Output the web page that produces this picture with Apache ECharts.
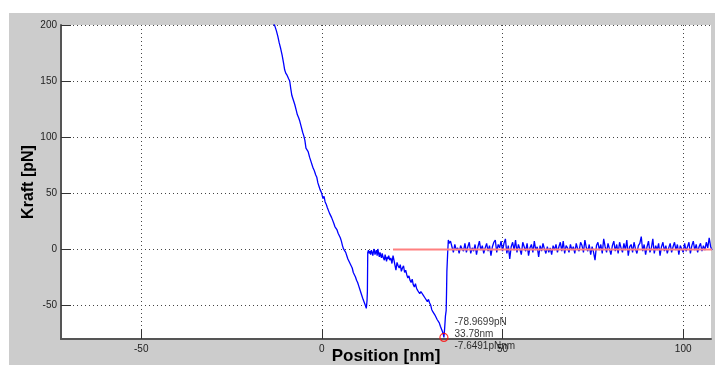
<!DOCTYPE html>
<html>
<head>
<meta charset="utf-8">
<script src="https://cdn.jsdelivr.net/npm/echarts@6/dist/echarts.min.js"></script>
<style>
html,body{margin:0;padding:0;background:#fff;}
#bg{position:absolute;left:9px;top:13px;width:706px;height:352px;background:#cccccc;}
#chart{position:absolute;left:0;top:0;width:715px;height:374px;}
</style>
</head>
<body>
<div id="bg"></div>
<div id="chart"></div>
<script>
// ---- data ----
var xTicks = [-50, 0, 50, 100];
var yTicks = [-50, 0, 50, 100, 150, 200];

// approach / contact part of the force curve [position nm, force pN]
var approachCurve = [
  [-14.0,206],[-13.6,203],[-13.0,199],[-12.6,195],[-12.2,190],[-11.8,184],[-11.4,179],[-11.0,173],
  [-10.6,166],[-10.3,160],[-10.0,157],[-9.6,155],[-9.2,152],[-8.9,150],[-8.6,143],[-8.3,137],
  [-7.9,133],[-7.5,129],[-7.1,124],[-6.8,120],[-6.4,117],[-6.1,114],[-5.7,109],[-5.3,104],
  [-5.0,101],[-4.7,97],[-4.4,90],[-4.1,91],[-3.8,87],[-3.4,82],[-3.0,78],[-2.7,75],[-2.4,72],
  [-2.1,70],[-1.9,68],[-1.7,66],[-1.4,64],[-1.1,59],[-0.8,56],[-0.5,53],[-0.2,51],[0.0,49],
  [0.3,45],[0.6,47],[0.9,42],[1.2,40],[1.5,37],[1.8,36],[2.1,32],[2.4,30],[2.7,28],[3.0,27],
  [3.3,23],[3.6,20],[3.9,19],[4.2,17],[4.5,14],[4.8,12],[5.1,10],[5.4,7],[5.7,3],[6.0,0],
  [6.3,-1],[6.6,-3],[6.9,-6],[7.2,-9],[7.5,-11],[7.8,-13],[8.1,-15],[8.4,-17],[8.7,-21],
  [9.0,-23],[9.3,-25],[9.6,-28],[9.9,-30],[10.2,-33],[10.5,-36],[10.8,-37],[11.1,-42],
  [11.4,-45],[11.7,-44],[12.0,-50],[12.3,-53],[12.5,-46],[12.6,-38],[12.7,-3]
];
// first plateau after the first rupture
var plateau = [
  [12.9,-1],[13.1,-4],[13.3,-2],[13.5,-5],[13.7,-1],[13.9,-3],[14.1,-6],[14.3,-2],[14.5,0],
  [14.7,-5],[14.9,-3],[15.1,-1],[15.3,-6],[15.5,0],[15.7,-4],[15.9,-7],[16.1,-3],[16.3,-6],
  [16.5,-8],[16.7,-4],[16.9,-7],[17.1,-6],[17.3,-10],[17.5,-5],[17.7,-8],[17.9,-11],[18.1,-7],
  [18.3,-9],[18.5,-6],[18.8,-10],[19.1,-8],[19.4,-13],[19.7,-6],[19.9,-9]
];
// stretching towards the second rupture
var stretch = [
  [20.2,-14],[20.5,-19],[20.8,-12],[21.1,-15],[21.4,-17],[21.7,-14],[22.0,-20],[22.3,-17],
  [22.6,-15],[22.9,-21],[23.2,-19],[23.5,-23],[23.8,-26],[24.1,-24],[24.4,-28],[24.7,-30],
  [25.0,-27],[25.3,-32],[25.6,-34],[25.9,-31],[26.2,-35],[26.5,-37],[26.8,-36],[27.1,-40],
  [27.4,-38],[27.7,-39],[28.0,-41],[28.3,-40],[28.6,-44],[28.9,-43],[29.2,-47],[29.5,-45],
  [29.8,-48],[30.1,-50],[30.4,-54],[30.7,-56],[31.0,-55],[31.3,-59],[31.6,-61],[31.9,-63],
  [32.2,-62],[32.5,-66],[32.8,-69],[33.1,-70],[33.4,-74],[33.6,-76],[33.78,-78.97]
];
// rupture and baseline noise
var baseline = [
  [34.0,-70],[34.2,-60],[34.4,-55],[34.5,-40],[34.6,-20],[34.8,-5],[35.0,8],
  [35.2,5],[35.6,7],[36.0,2],[36.4,-3],[36.8,4],[37.2,-1],[37.6,1],[38.0,-4],[38.4,3],[38.8,0],
  [39.2,-2],[39.6,5],[40.0,-3],[40.4,2],[40.8,6],[41.2,-4],[41.6,1],[42.0,-2],[42.4,4],[42.8,-5],
  [43.2,2],[43.6,7],[44.0,-1],[44.4,3],[44.8,-4],[45.2,1],[45.6,5],[46.0,-2],[46.4,3],[46.8,-6],
  [47.2,2],[47.6,6],[48.0,8],[48.4,-3],[48.8,4],[49.2,1],[49.6,7],[50.0,-2],[50.4,5],[50.8,9],
  [51.2,-4],[51.6,3],[52.0,-9],[52.4,2],[52.8,6],[53.2,-1],[53.6,8],[54.0,-3],[54.4,4],[54.8,0],
  [55.2,-5],[55.6,6],[56.0,2],[56.4,-2],[56.8,5],[57.2,-6],[57.6,1],[58.0,4],[58.4,-3],[58.8,7],
  [59.2,-1],[59.6,2],[60.0,-7],[60.4,3],[60.8,-2],[61.2,5],[61.6,0],[62.0,-4],[62.4,2],[62.8,-3],
  [63.2,1],[63.6,-5],[64.0,3],[64.4,-1],[64.8,4],[65.2,-3],[65.6,2],[66.0,6],[66.4,-2],[66.8,7],
  [67.2,-4],[67.6,3],[68.0,1],[68.4,-3],[68.8,4],[69.2,-1],[69.6,2],[70.0,-4],[70.4,5],[70.8,0],
  [71.2,-2],[71.6,6],[72.0,3],[72.4,-3],[72.8,8],[73.2,1],[73.6,-2],[74.0,4],[74.4,-5],[74.8,2],
  [75.2,-3],[75.6,-10],[76.0,3],[76.4,6],[76.8,-1],[77.2,4],[77.6,-4],[78.0,9],[78.4,2],[78.8,-3],
  [79.2,5],[79.6,0],[80.0,-5],[80.4,3],[80.8,7],[81.2,-2],[81.6,4],[82.0,-4],[82.4,6],[82.8,1],
  [83.2,-3],[83.6,5],[84.0,-1],[84.4,8],[84.8,-6],[85.2,2],[85.6,4],[86.0,-3],[86.4,6],[86.8,0],
  [87.2,-4],[87.6,3],[88.0,5],[88.4,11],[88.8,-2],[89.2,4],[89.6,-5],[90.0,2],[90.4,7],[90.8,-3],
  [91.2,1],[91.6,9],[92.0,-4],[92.4,3],[92.8,-1],[93.2,5],[93.6,-6],[94.0,2],[94.4,6],[94.8,-2],
  [95.2,3],[95.6,-4],[96.0,1],[96.4,5],[96.8,-3],[97.2,2],[97.6,6],[98.0,-1],[98.4,4],[98.8,-5],
  [99.2,3],[99.6,0],[100.0,-3],[100.4,5],[100.8,-2],[101.2,2],[101.6,6],[102.0,-4],[102.4,3],
  [102.8,7],[103.2,-1],[103.6,4],[104.0,-3],[104.4,2],[104.8,5],[105.2,-2],[105.6,3],[106.0,-1],
  [106.4,6],[106.8,1],[107.2,10],[107.6,2],[108.0,-1]
];
var zeroLine = [[19.7,-0.5],[108.0,-0.5]];
var minPoint = [33.78, -78.9699];
var annotation = ['-78.9699pN', '33.78nm', '-7.6491pNnm'];

var forceCurve = approachCurve.concat(plateau, stretch, baseline);

var chart = echarts.init(document.getElementById('chart'), null, {renderer:'canvas'});
var font = 'Liberation Sans, Arial, sans-serif';
var gridLine = {show:true, lineStyle:{color:'#444', type:[1,3], width:1}};
chart.setOption({
  backgroundColor: 'transparent',
  animation: false,
  grid: {left:61, top:25, right:4, bottom:35, show:true, backgroundColor:'#ffffff', borderWidth:0,
         containLabel:false, outerBoundsMode:'none'},
  xAxis: {
    type:'value', min:-72.2, max:107.7,
    name:'Position [nm]', nameLocation:'middle', nameGap:9, nameMoveOverlap:false,
    nameTextStyle:{fontFamily:font, fontWeight:'bold', fontSize:17, color:'#000', verticalAlign:'top'},
    axisLine:{show:true, onZero:false, lineStyle:{color:'#555', width:2}},
    axisTick:{show:true, inside:true, length:10, customValues:xTicks, lineStyle:{color:'#333'}},
    axisLabel:{fontFamily:font, fontSize:10, color:'#222', margin:5, customValues:xTicks},
    splitLine:gridLine
  },
  yAxis: {
    type:'value', min:-80.4, max:200,
    name:'Kraft [pN]', nameLocation:'middle', nameGap:24, nameRotate:90, nameMoveOverlap:false,
    nameTextStyle:{fontFamily:font, fontWeight:'bold', fontSize:16, color:'#000'},
    axisLine:{show:true, onZero:false, lineStyle:{color:'#555', width:2}},
    axisTick:{show:true, inside:true, length:10, customValues:yTicks, lineStyle:{color:'#333'}},
    axisLabel:{fontFamily:font, fontSize:10, color:'#222', margin:4, customValues:yTicks},
    splitLine:gridLine
  },
  series: [
    {type:'line', data:forceCurve, showSymbol:false, symbol:'none',
     lineStyle:{color:'#0000ff', width:1.3}, z:3},
    {type:'line', data:zeroLine, showSymbol:false, symbol:'none',
     lineStyle:{color:'#ff8080', width:2}, z:4},
    {type:'scatter', data:[minPoint], symbol:'circle', symbolSize:8,
     itemStyle:{color:'rgba(0,0,0,0)', borderColor:'#ff0000', borderWidth:1.2}, z:5,
     label:{show:true, position:'right', distance:6, offset:[0,-3],
       fontFamily:font, fontSize:10, color:'#000', lineHeight:12,
       formatter:function(){return annotation.join('\n');}}}
  ]
});
</script>
</body>
</html>
